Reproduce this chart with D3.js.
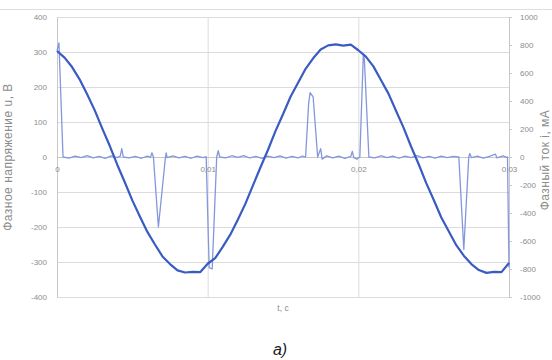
<!DOCTYPE html>
<html>
<head>
<meta charset="utf-8">
<script src="https://cdn.jsdelivr.net/npm/d3@7"></script>
<style>
  body { margin: 0; background: #fff; }
  svg { display: block; font-family: "Liberation Sans", Arial, sans-serif; }
  .axis text { fill: #8c8c8c; font-size: 8px; }
  .axis path, .axis line { stroke: #c8c8c8; }
</style>
</head>
<body>
<svg id="osc" width="552" height="360"></svg>
<script>
let timeV = d3.range(61).map(function(k) { return k * 0.0005; });
let voltage = [303, 284, 257, 222, 179, 134, 82, 32, -22, -72,
  -124, -170, -214, -250, -284, -306, -324, -330, -328, -329,
  -305, -289, -257, -222, -179, -134, -82, -30, 20, 74,
  122, 172, 212, 252, 282, 307, 319, 322, 318, 321,
  305, 287, 259, 220, 181, 132, 84, 30, -20, -74,
  -122, -172, -212, -252, -282, -306, -323, -331, -328, -329,
  -303];

// current, irregular sampling around the spikes
let timeI = [0, 0.00013, 0.0004, 0.0008, 0.0012, 0.0016, 0.002, 0.0024, 0.0028, 0.0032,
  0.0036, 0.004, 0.0042, 0.0043, 0.0044, 0.0048, 0.0052, 0.0056, 0.006, 0.0062,
  0.0063, 0.0064, 0.00673, 0.0072, 0.00725, 0.0073, 0.0077, 0.0081, 0.0085, 0.0089,
  0.0093, 0.0097, 0.0099, 0.0101, 0.0103, 0.0106, 0.0107, 0.0108, 0.0112, 0.0116,
  0.012, 0.0124, 0.0128, 0.0132, 0.0136, 0.014, 0.0144, 0.0148, 0.0152, 0.0156,
  0.016, 0.0163, 0.0165, 0.0167, 0.0168, 0.017, 0.0173, 0.0175, 0.0176, 0.0179,
  0.0183, 0.0187, 0.0191, 0.0195, 0.0196, 0.0197, 0.0199, 0.0201, 0.02033, 0.0204,
  0.0207, 0.0211, 0.0215, 0.0219, 0.0223, 0.0227, 0.0231, 0.0235, 0.0239, 0.0243,
  0.0247, 0.0251, 0.0255, 0.0259, 0.0263, 0.02667, 0.027, 0.02733, 0.0274, 0.0275,
  0.0279, 0.0283, 0.0287, 0.0291, 0.0292, 0.0296, 0.02985, 0.0299, 0.03];
let current = [760, 815, 0, -8, 6, -4, 10, -6, 4, -10,
  8, -5, 6, 60, 0, -7, 5, -9, 7, -3,
  30, 0, -500, 0, 30, -5, 8, -6, 5, -9,
  6, -4, 2, -790, -800, 0, 45, 0, -6, 9,
  -3, 10, -7, 5, -10, 6, -4, 8, -8, 5,
  -6, 7, 0, 380, 460, 430, 0, 60, -15, 8,
  -7, 6, -10, 5, 40, -5, -15, 0, 730, 700,
  0, -6, 9, -4, 7, -9, 6, -5, 10, -6,
  4, -8, 7, -4, 5, 0, -660, 0, 25, -5,
  7, -8, 5, 20, -6, 8, -3, 0, -790];

let ticksU = d3.range(-400, 401, 100);
let ticksI = d3.range(-1000, 1001, 200);
let ticksT = [0, 0.01, 0.02, 0.03];

let margins = { top: 17, right: 43, bottom: 63, left: 57 };
let width = 552 - margins.left - margins.right;
let height = 360 - margins.top - margins.bottom;

let xScale = d3.scaleLinear().domain([0, 0.03]).range([0, width]);
let yU = d3.scaleLinear().domain([-400, 400]).range([height, 0]);
let yI = d3.scaleLinear().domain([-1000, 1000]).range([height, 0]);

let svg = d3.select("#osc");

// outer chart frame (top edge only shows)
svg.append("line")
  .attr("x1", 0).attr("x2", 552)
  .attr("y1", 9.5).attr("y2", 9.5)
  .style("stroke", "#dedede");

let graph = svg.append("g")
  .attr("transform", "translate(" + margins.left + "," + margins.top + ")");

// horizontal grid
graph.append("g")
  .attr("class", "grid")
  .call(d3.axisLeft(yU).tickValues(ticksU).tickSize(-width).tickFormat(""))
  .call(function(g) { g.select(".domain").remove(); })
  .selectAll("line").style("stroke", "#dcdcdc");

// vertical grid
graph.append("g")
  .attr("class", "grid")
  .attr("transform", "translate(0," + height + ")")
  .call(d3.axisBottom(xScale).tickValues([0.01, 0.02]).tickSize(-height).tickFormat(""))
  .call(function(g) { g.select(".domain").remove(); })
  .selectAll("line").style("stroke", "#dcdcdc");

let plainFmt = function(d) { return String(d); };

// left axis
graph.append("g")
  .attr("class", "axis")
  .call(d3.axisLeft(yU).tickValues(ticksU).tickSize(0).tickPadding(10).tickFormat(plainFmt));

// right axis
graph.append("g")
  .attr("class", "axis")
  .attr("transform", "translate(" + width + ",0)")
  .call(d3.axisRight(yI).tickValues(ticksI).tickSize(3).tickPadding(8).tickFormat(plainFmt));

// time axis through zero
let commaFmt = function(d) { return d === 0 ? "0" : d3.format(".2f")(d).replace(".", ","); };
graph.append("g")
  .attr("class", "axis")
  .attr("transform", "translate(0," + yU(0) + ")")
  .call(d3.axisBottom(xScale).tickValues(ticksT).tickSize(0).tickPadding(9).tickFormat(commaFmt));

let lineU = d3.line()
  .x(function(d, i) { return xScale(timeV[i]); })
  .y(function(d) { return yU(d); });
let lineI = d3.line()
  .x(function(d, i) { return xScale(timeI[i]); })
  .y(function(d) { return yI(d); });

graph.append("path")
  .attr("d", lineI(current))
  .style("fill", "none")
  .style("stroke", "#8497dc")
  .style("stroke-width", 1.3)
  .style("stroke-linejoin", "round");

graph.append("path")
  .attr("d", lineU(voltage))
  .style("fill", "none")
  .style("stroke", "#3a5cc2")
  .style("stroke-width", 2.2)
  .style("stroke-linejoin", "round");

// axis titles
svg.append("text")
  .attr("transform", "translate(12,157) rotate(-90)")
  .attr("text-anchor", "middle")
  .style("font-size", "12px")
  .style("letter-spacing", "0.5px")
  .style("fill", "#8c8c8c")
  .text("Фазное напряжение u, В");

svg.append("text")
  .attr("transform", "translate(549,160) rotate(-90)")
  .attr("text-anchor", "middle")
  .style("font-size", "12px")
  .style("letter-spacing", "0.5px")
  .style("fill", "#8c8c8c")
  .text("Фазный ток i, мА");

svg.append("text")
  .attr("x", margins.left + width / 2)
  .attr("y", 311)
  .attr("text-anchor", "middle")
  .style("font-size", "8.5px")
  .style("fill", "#8c8c8c")
  .text("t, c");

svg.append("text")
  .attr("x", 280)
  .attr("y", 355)
  .attr("text-anchor", "middle")
  .style("font-size", "16px")
  .style("font-style", "italic")
  .style("fill", "#1a1a1a")
  .text("a)");
</script>
</body>
</html>
